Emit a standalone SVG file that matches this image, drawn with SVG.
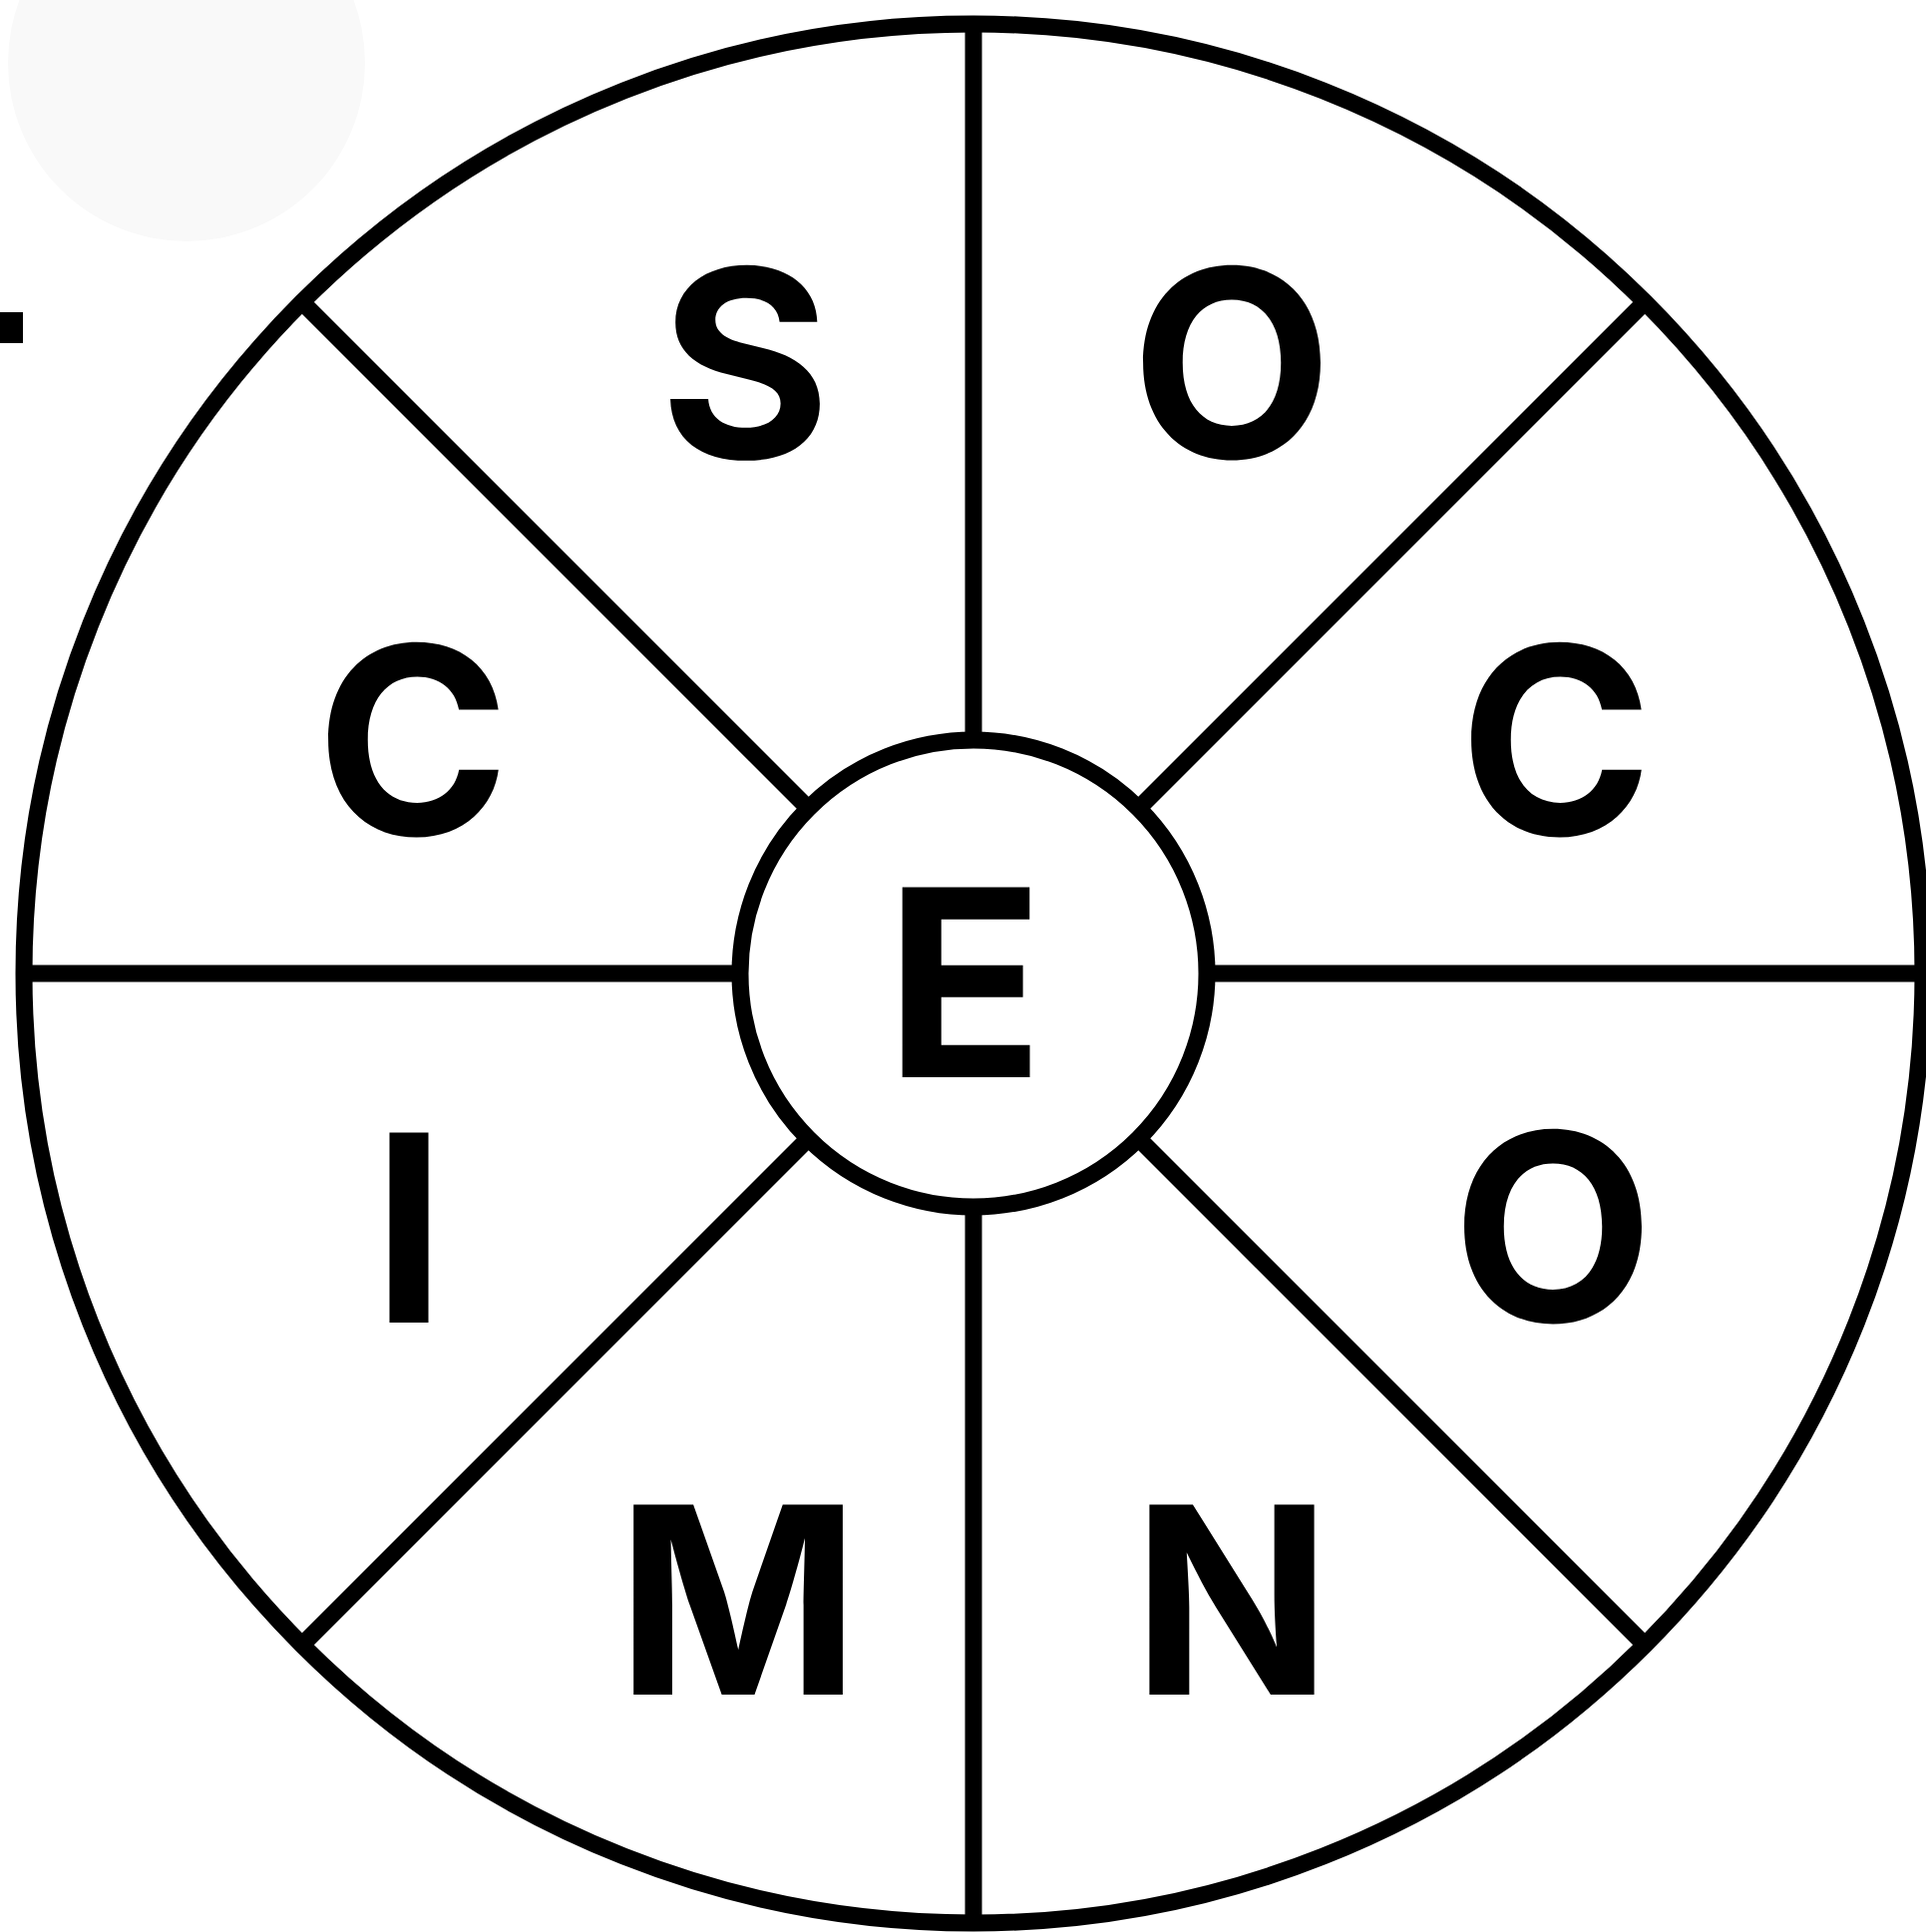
<svg xmlns="http://www.w3.org/2000/svg" width="1931" height="1937" viewBox="0 0 1931 1937">
<style>
.ln{stroke:#000;stroke-width:17;fill:none}
.disc{stroke:#000;stroke-width:17;fill:#fff}
.lt{font-family:Inter,"Liberation Sans",sans-serif;font-weight:700;font-size:262px;fill:#000;text-anchor:middle}
</style>
<rect x="0" y="0" width="1931" height="1937" fill="#fff"/>
<circle cx="187" cy="63" r="179" fill="#f9f9f9"/>
<rect x="0" y="313" width="23" height="31" fill="#000"/>
<g id="outer">
<circle cx="976" cy="976" r="952" class="disc"/>
</g>
<g id="connectors">
<line class="ln" x1="976" y1="24" x2="976" y2="1928"/>
<line class="ln" x1="24" y1="976" x2="1928" y2="976"/>
<line class="ln" x1="303" y1="303" x2="1649" y2="1649"/>
<line class="ln" x1="1649" y1="303" x2="303" y2="1649"/>
</g>
<g id="center">
<circle cx="976" cy="976" r="234" class="disc"/>
<text class="lt" x="967" y="1080">E</text>
</g>
<g id="seg-s"><text class="lt" x="747" y="459">S</text></g>
<g id="seg-o1"><text class="lt" x="1235" y="459">O</text></g>
<g id="seg-c2"><text class="lt" x="1560" y="837">C</text></g>
<g id="seg-o2"><text class="lt" x="1557" y="1325">O</text></g>
<g id="seg-n"><text class="lt" x="1235" y="1699">N</text></g>
<g id="seg-m"><text class="lt" x="740" y="1699">M</text></g>
<g id="seg-i"><text class="lt" x="410" y="1326">I</text></g>
<g id="seg-c1"><text class="lt" x="414" y="837">C</text></g>
</svg>
